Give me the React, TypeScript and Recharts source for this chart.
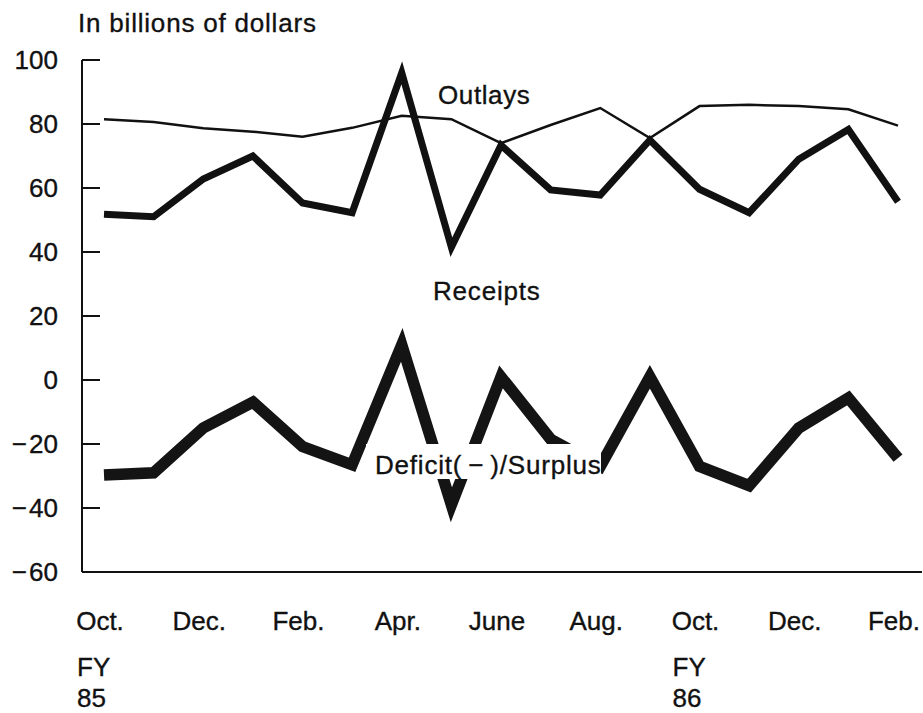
import React from "react";
import { LineChart, Line, XAxis, YAxis } from "recharts";

// Oct. FY85 through Feb. FY86 (monthly, billions of dollars)
const periods = [
  "1984-10", "1984-11", "1984-12", "1985-01", "1985-02", "1985-03",
  "1985-04", "1985-05", "1985-06", "1985-07", "1985-08", "1985-09",
  "1985-10", "1985-11", "1985-12", "1986-01", "1986-02",
];
const monthLabels = [
  "Oct.", "Nov.", "Dec.", "Jan.", "Feb.", "Mar.", "Apr.", "May", "June",
  "July", "Aug.", "Sept.", "Oct.", "Nov.", "Dec.", "Jan.", "Feb.",
];
const fyStartIndex = [0, 12];
const fyLabels = ["85", "86"];

const outlays = [81.5, 80.6, 78.7, 77.6, 76, 78.8, 82.6, 81.5, 74, 79.7, 85, 75.6, 85.6, 86, 85.6, 84.6, 79.5];
const receipts = [51.8, 51, 62.8, 70, 55.3, 52.3, 96, 41.5, 73.4, 59.4, 57.8, 75, 59.6, 52.3, 69, 78.3, 55.7];
const deficit = [-29.7, -29, -15, -6.9, -20.8, -26.5, 11, -39, 1, -18.5, -27, 1, -27, -33, -15, -5.6, -24.4];

const yTicks = [-60, -40, -20, 0, 20, 40, 60, 80, 100];

const data = periods.map((period, i) => ({
  period,
  outlays: outlays[i],
  receipts: receipts[i],
  deficit: deficit[i],
}));

const FONT = '"Liberation Sans", Arial, Helvetica, sans-serif';
const INK = "#111";

function MonthTick(props: any) {
  const { x, y, payload } = props;
  const i = periods.indexOf(payload.value);
  const fy = fyStartIndex.indexOf(i);
  return (
    <g fontFamily={FONT} fontSize={26} fill={INK} stroke={INK} strokeWidth={0.35}>
      <text x={x - 4} y={y + 58} textAnchor="middle">
        {monthLabels[i]}
      </text>
      {fy >= 0 && (
        <>
          <text x={x - 27} y={y + 104}>FY</text>
          <text x={x - 27} y={y + 135}>{fyLabels[fy]}</text>
        </>
      )}
    </g>
  );
}

const fmtY = (v: number) => (v < 0 ? `\u2212\u200a${-v}` : `${v}`);

export default function App() {
  return (
    <div style={{ position: "absolute", left: 0, top: 0, width: 923, height: 713, background: "#fff" }}>
      <LineChart
        width={923}
        height={713}
        data={data}
        margin={{ top: 60, right: 1, left: 22, bottom: 101 }}
      >
        <XAxis
          dataKey="period"
          interval={1}
          padding={{ left: 22, right: 24 }}
          axisLine={{ stroke: INK, strokeWidth: 2 }}
          tickLine={false}
          tickSize={0}
          tickMargin={0}
          height={40}
          tick={<MonthTick />}
        />
        <XAxis
          xAxisId="top"
          orientation="top"
          dataKey="period"
          height={0}
          tick={false}
          tickLine={false}
          axisLine={{ stroke: INK, strokeWidth: 2 }}
        />
        <YAxis
          type="number"
          domain={[-60, 100]}
          ticks={yTicks}
          width={60}
          tickFormatter={fmtY}
          tickSize={-18}
          tickMargin={42}
          tickLine={{ stroke: INK, strokeWidth: 2 }}
          axisLine={{ stroke: INK, strokeWidth: 2 }}
          tick={{ fill: INK, stroke: INK, strokeWidth: 0.35, fontSize: 26, fontFamily: FONT }}
        />
        <YAxis
          yAxisId="right"
          orientation="right"
          type="number"
          domain={[-60, 100]}
          width={0}
          tick={false}
          tickLine={false}
          axisLine={{ stroke: INK, strokeWidth: 2 }}
        />
        <Line
          type="linear"
          dataKey="outlays"
          stroke={INK}
          strokeWidth={2.5}
          dot={false}
          isAnimationActive={false}
        />
        <Line
          type="linear"
          dataKey="receipts"
          stroke={INK}
          strokeWidth={7}
          strokeLinejoin="miter"
          dot={false}
          isAnimationActive={false}
        />
        <Line
          type="linear"
          dataKey="deficit"
          stroke="#141414"
          strokeWidth={11.5}
          strokeLinejoin="miter"
          strokeLinecap="butt"
          dot={false}
          isAnimationActive={false}
        />
      </LineChart>
      <svg
        width={923}
        height={713}
        style={{ position: "absolute", left: 0, top: 0, pointerEvents: "none" }}
        fontFamily={FONT}
        fontSize={26}
        fill={INK}
      >
        <g stroke={INK} strokeWidth={0.35}>
          <text x={78} y={32} letterSpacing={0.8}>In billions of dollars</text>
          <text x={438} y={104} letterSpacing={0.6}>Outlays</text>
          <text x={433} y={300} letterSpacing={0.8}>Receipts</text>
        </g>
        <rect x={366} y={444} width={235} height={35} fill="#fff" />
        <text x={375} y={474} letterSpacing={0.8} stroke={INK} strokeWidth={0.35}>
          {"Deficit(\u2009\u2212\u2009)/Surplus"}
        </text>
      </svg>
    </div>
  );
}
